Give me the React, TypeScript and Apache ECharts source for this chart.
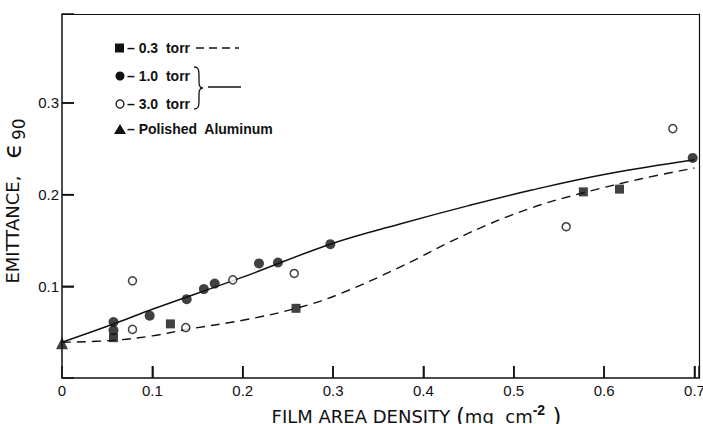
import React, { useEffect, useRef } from "react";
import * as echarts from "echarts";

// ---- data ----
const squares03: [number, number][] = [
  [0.057, 0.044], [0.12, 0.059], [0.259, 0.076], [0.577, 0.203], [0.617, 0.206],
];
const filled10: [number, number][] = [
  [0.057, 0.061], [0.057, 0.052], [0.097, 0.068], [0.138, 0.086], [0.157, 0.097],
  [0.169, 0.103], [0.218, 0.125], [0.239, 0.126], [0.297, 0.146], [0.698, 0.240],
];
const open30: [number, number][] = [
  [0.078, 0.106], [0.078, 0.053], [0.137, 0.055], [0.189, 0.107],
  [0.257, 0.114], [0.558, 0.165], [0.676, 0.272],
];
const aluminum: [number, number][] = [[0, 0.038]];

const solidCurve: [number, number][] = [
  [0, 0.039], [0.06, 0.06], [0.1, 0.075], [0.2, 0.11], [0.3, 0.147],
  [0.374, 0.168], [0.45, 0.188], [0.52, 0.205], [0.6, 0.222], [0.7, 0.238],
];
const dashedCurve: [number, number][] = [
  [0, 0.039], [0.056, 0.041], [0.1, 0.046], [0.138, 0.053], [0.2, 0.063],
  [0.259, 0.076], [0.308, 0.092], [0.374, 0.121], [0.45, 0.158], [0.518, 0.185],
  [0.577, 0.202], [0.64, 0.217], [0.7, 0.229],
];

const xTickLabels = ["0", "0.1", "0.2", "0.3", "0.4", "0.5", "0.6", "0.7"];
const yTickLabels = ["0.1", "0.2", "0.3"];
const xTickValues = [0.1, 0.2, 0.3, 0.4, 0.5, 0.6, 0.7];
const yTickValues = [0.1, 0.2, 0.3];

const FONT = "Liberation Sans";
const NAMEFONT = "DejaVu Sans";

function fmt(v: number, labels: string[]) {
  const t = v === 0 ? "0" : v.toFixed(1);
  const onTick = Math.abs(v * 10 - Math.round(v * 10)) < 1e-6;
  return onTick && labels.includes(t) ? t : "";
}

export default function App() {
  const ref = useRef<HTMLDivElement>(null);
  useEffect(() => {
    if (!ref.current) return;
    echarts.graphic.registerShape(
      "brace",
      echarts.graphic.extendPath(
        "M0,0 C4,0 5,2 5,8 L5,15 C5,19 6,21 9,21 C6,21 5,23 5,27 L5,34 C5,40 4,42 0,42",
        {}
      )
    );
    const chart = echarts.init(ref.current, undefined, { renderer: "svg" });
    const legendText = {
      fontFamily: FONT,
      fontSize: 14,
      fontWeight: "bold",
      fill: "#111",
      verticalAlign: "middle",
      align: "left",
    };
    const frameAxis = {
      type: "value",
      axisLine: { show: true, onZero: false, lineStyle: { color: "#111", width: 1.2 } },
      axisTick: { show: false },
      axisLabel: { show: false },
      splitLine: { show: false },
    };
    const legendGraphics: any[] = [
      { type: "rect", shape: { x: 115, y: 43.5, width: 9, height: 9 }, style: { fill: "#111" } },
      { type: "text", x: 127, y: 48, style: { ...legendText, text: "– 0.3  torr" } },
      { type: "line", shape: { x1: 196, y1: 48, x2: 239, y2: 48 }, style: { stroke: "#111", lineWidth: 1.3, lineDash: [8, 5] } },
      { type: "circle", shape: { cx: 120, cy: 76, r: 4.5 }, style: { fill: "#111" } },
      { type: "text", x: 127, y: 76, style: { ...legendText, text: "– 1.0  torr" } },
      { type: "circle", shape: { cx: 120, cy: 104, r: 4 }, style: { fill: "#fff", stroke: "#111", lineWidth: 1.3 } },
      { type: "text", x: 127, y: 104, style: { ...legendText, text: "– 3.0  torr" } },
      { type: "brace", x: 194, y: 67, scaleX: 1, scaleY: 1, style: { fill: "none", stroke: "#111", lineWidth: 1.3 } },
      { type: "line", shape: { x1: 208, y1: 87, x2: 241, y2: 87 }, style: { stroke: "#111", lineWidth: 1.5 } },
      { type: "polygon", shape: { points: [[114, 134], [126, 134], [120, 124]] }, style: { fill: "#111" } },
      { type: "text", x: 127, y: 129, style: { ...legendText, text: "– Polished  Aluminum" } },
    ];
    chart.setOption({
      animation: false,
      grid: {
        left: 62,
        right: 4,
        top: 14,
        bottom: 46,
        containLabel: false,
        outerBoundsMode: "none",
      },
      xAxis: [
        {
          type: "value",
          min: 0,
          max: 0.705,
          interval: 0.1,
          splitLine: { show: false },
          axisLine: { show: true, onZero: false, lineStyle: { color: "#111", width: 1.5 } },
          axisTick: { show: true, inside: true, length: 12, lineStyle: { color: "#111", width: 1.5 } },
          axisLabel: {
            color: "#111",
            fontFamily: FONT,
            fontSize: 15,
            margin: 5,
            showMaxLabel: true,
            formatter: (v: number) => fmt(v, xTickLabels),
          },
          name: "FILM AREA DENSITY {p|(}mg  cm{sup|-2}{p| )}",
          nameLocation: "middle",
          nameGap: 12,
          nameTextStyle: {
            color: "#111",
            fontFamily: NAMEFONT,
            fontSize: 18,
            padding: [0, 0, 0, 72],
            rich: {
              p: { fontFamily: NAMEFONT, fontSize: 23, color: "#111" },
              sup: { fontFamily: FONT, fontSize: 14, fontWeight: "bold", color: "#111", padding: [0, 0, 14, 0] },
            },
          },
        },
        { ...frameAxis, position: "top", min: 0, max: 0.705 },
      ],
      yAxis: [
        {
          type: "value",
          min: 0,
          max: 0.397,
          interval: 0.1,
          splitLine: { show: false },
          axisLine: { show: true, onZero: false, lineStyle: { color: "#111", width: 1.5 } },
          axisTick: { show: true, inside: true, length: 12, lineStyle: { color: "#111", width: 1.5 } },
          axisLabel: {
            color: "#111",
            fontFamily: FONT,
            fontSize: 15,
            margin: 3,
            formatter: (v: number) => (v === 0 ? "" : fmt(v, yTickLabels)),
          },
          name: "EMITTANCE,   {e|ϵ}{sub|90}",
          nameLocation: "middle",
          nameRotate: 90,
          nameGap: 13,
          nameTextStyle: {
            color: "#111",
            fontFamily: NAMEFONT,
            fontSize: 18,
            padding: [0, 10, 0, 0],
            rich: {
              e: { fontFamily: NAMEFONT, fontSize: 25, color: "#111" },
              sub: { fontFamily: NAMEFONT, fontSize: 17, color: "#111", padding: [13, 0, 0, 3] },
            },
          },
        },
        { ...frameAxis, position: "right", min: 0, max: 0.397 },
      ],
      series: [
        {
          type: "line",
          data: solidCurve,
          smooth: 0.4,
          symbol: "none",
          clip: false,
          lineStyle: { color: "#111", width: 1.5 },
          z: 2,
        },
        {
          type: "line",
          data: dashedCurve,
          smooth: 0.4,
          symbol: "none",
          clip: false,
          lineStyle: { color: "#111", width: 1.4, type: [9, 6] },
          z: 2,
        },
        {
          type: "scatter",
          data: squares03,
          symbol: "rect",
          symbolSize: 9,
          clip: false,
          itemStyle: { color: "#111" },
          z: 3,
        },
        {
          type: "scatter",
          data: filled10,
          symbol: "circle",
          symbolSize: 10,
          clip: false,
          itemStyle: { color: "#111" },
          z: 3,
        },
        {
          type: "scatter",
          data: open30,
          symbol: "circle",
          symbolSize: 8,
          clip: false,
          itemStyle: { color: "#fff", borderColor: "#111", borderWidth: 1.5 },
          z: 3,
        },
        {
          type: "scatter",
          data: aluminum,
          symbol: "triangle",
          symbolSize: 12,
          clip: false,
          itemStyle: { color: "#111" },
          z: 4,
        },
      ],
      graphic: legendGraphics,
    });

    // inward tick marks positioned through the axes' own scales
    const tickGraphics: any[] = [];
    xTickValues.forEach((v) => {
      const p = chart.convertToPixel({ xAxisIndex: 0, yAxisIndex: 0 }, [v, 0]) as number[];
      if (p) {
        tickGraphics.push({
          type: "line",
          z: 50,
          shape: { x1: p[0], y1: p[1], x2: p[0], y2: p[1] - 12 },
          style: { stroke: "#111", lineWidth: 1.5 },
        });
      }
    });
    yTickValues.forEach((v) => {
      const p = chart.convertToPixel({ xAxisIndex: 0, yAxisIndex: 0 }, [0, v]) as number[];
      if (p) {
        tickGraphics.push({
          type: "line",
          z: 50,
          shape: { x1: p[0], y1: p[1], x2: p[0] + 12, y2: p[1] },
          style: { stroke: "#111", lineWidth: 1.5 },
        });
      }
    });
    chart.setOption({ graphic: [...legendGraphics, ...tickGraphics] });

    return () => chart.dispose();
  }, []);
  return <div ref={ref} style={{ width: 703, height: 424, position: "absolute", left: 0, top: 0 }} />;
}
